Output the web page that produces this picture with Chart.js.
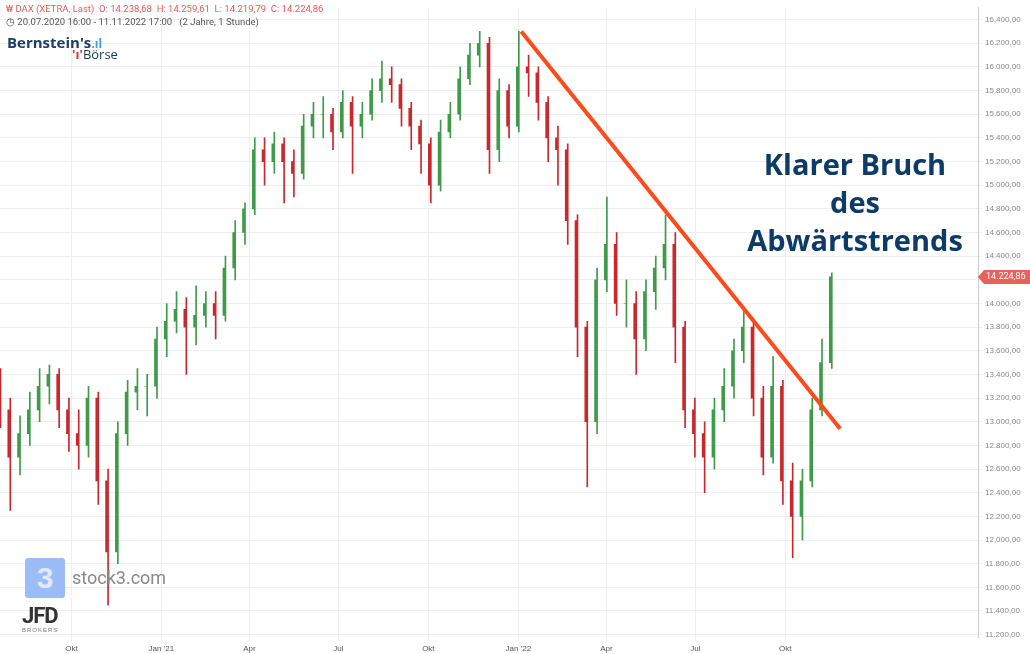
<!DOCTYPE html>
<html>
<head>
<meta charset="utf-8">
<script src="https://cdn.jsdelivr.net/npm/chart.js@4"></script>
<style>
  body { margin: 0; background: #fff; font-family: Roboto, "Noto Sans", sans-serif; }
  #wrap { position: relative; width: 1030px; height: 654px; }
  .hdr { position: absolute; left: 6px; font-size: 9.5px; }
  .big { position: absolute; left: 700px; width: 310px; text-align: center; color: #0d3a66;
         font: bold 29px "Open Sans", sans-serif; line-height: 38px; top: 145px; }
</style>
</head>
<body>
<div id="wrap">
  <canvas id="c" width="1030" height="654"></canvas>
  <div class="hdr" style="top:3px;color:#e85a5a">₩ DAX (XETRA, Last)&nbsp; O: 14.238,68&nbsp; H: 14.259,61&nbsp; L: 14.219,79&nbsp; C: 14.224,86</div>
  <div class="hdr" style="top:16px;color:#555">◷ 20.07.2020 16:00 - 11.11.2022 17:00&nbsp;&nbsp; (2 Jahre, 1 Stunde)</div>
  <div style="position:absolute;left:7px;top:32px;font:bold 15px 'Open Sans',sans-serif;color:#1b3d66">Bernstein's<span style="color:#3aa0e0;font-size:12px">.ıl</span></div>
  <div style="position:absolute;left:72px;top:45px;font:13px 'Open Sans',sans-serif;color:#1b3d66"><span style="color:#e03030;font-weight:bold">'ı'</span>Börse</div>
  <div class="big">Klarer Bruch<br>des<br>Abwärtstrends</div>
  <div style="position:absolute;left:25px;top:558px;width:40px;height:40px;background:#9bbcf5;border-radius:3px;color:#dfe9ff;font:bold 30px sans-serif;text-align:center;line-height:40px">3</div>
  <div style="position:absolute;left:72px;top:567px;font:18px Roboto,sans-serif;color:#8a8a8a">stock3.com</div>
  <div style="position:absolute;left:22px;top:603px;font:bold 22px Roboto,sans-serif;color:#333;letter-spacing:-1px">JFD</div>
  <div style="position:absolute;left:22px;top:627px;font:6px sans-serif;color:#777;letter-spacing:1px">BROKERS</div>
</div>
<script>
// candles every 10 calendar days from 20.07.2020 (day 0)
const closes = [13100,12700,12900,13100,13300,13400,13100,12900,12800,13200,12500,11900,12900,13250,13300,13300,13700,13850,13950,13800,
  13900,14000,13900,14300,14600,14800,15300,15200,15350,15200,15100,15500,15600,15600,15450,15700,15500,15600,15800,15900,
  15850,15650,15500,15350,15000,15450,15600,15900,16100,16200,15300,15800,15500,16000,15950,15700,15400,15300,14700,13800,
  13000,14200,14500,14000,14000,13700,14100,14300,14500,13800,13100,12900,12700,13100,13300,13600,13800,13200,12700,13300,
  12500,12200,12500,13100,13500,14224.86];
const highs = [13450,13200,13050,13250,13450,13480,13450,13200,13100,13300,13250,12600,13000,13350,13450,13400,13800,14000,14100,14050,
  14150,14100,14100,14400,14700,14850,15400,15400,15450,15400,15300,15600,15700,15750,15650,15800,15750,15700,15900,16050,
  16000,15900,15700,15550,15400,15550,15700,16000,16200,16300,16250,15900,15850,16300,16100,16000,15750,15500,15350,14750,
  13850,14300,14900,14600,14200,14100,14200,14400,14750,14600,13850,13200,13000,13200,13450,13700,13950,13850,13300,13550,
  13350,12650,12600,13200,13700,14259.61];
const lows = [12950,12250,12550,12800,13000,13150,12950,12750,12600,12700,12300,11450,11800,12800,13100,13050,13200,13550,13750,13400,
  13650,13800,13700,13850,14200,14500,14750,15000,15100,14850,14900,15050,15400,15400,15300,15400,15100,15400,15550,15700,
  15700,15500,15300,15100,14850,14950,15400,15550,15850,16000,15100,15200,15400,15450,15750,15550,15200,15000,14500,13550,
  12450,12900,14100,13900,13800,13400,13600,13950,14200,13500,12950,12700,12400,12600,13000,13200,13500,13050,12550,12650,
  12300,11850,12000,12450,13050,13450];
const firstOpen = 13300;
const trendDays = [533, 859];
const trendPrices = [16300, 12940];
const monthDays = [73, 165, 255, 346, 438, 530, 620, 711, 803];
const monthLabels = ['Okt', "Jan '21", 'Apr', 'Jul', 'Okt', "Jan '22", 'Apr', 'Jul', 'Okt'];
const lastPrice = 14224.86;

const fmt = v => v.toLocaleString('de-DE', { minimumFractionDigits: 2, maximumFractionDigits: 2 });

const bodies = [], wicks = [], colors = [];
closes.forEach((c, i) => {
  const o = i === 0 ? firstOpen : closes[i - 1];
  bodies.push({ x: i * 10, y: [o, c] });
  wicks.push({ x: i * 10, y: [lows[i], highs[i]] });
  colors.push(c >= o ? '#3f9a4a' : '#c8282e');
});

const lastLabel = {
  id: 'lastLabel',
  afterDraw(chart) {
    const { ctx, scales: { y } } = chart;
    const py = y.getPixelForValue(lastPrice);
    ctx.save();
    ctx.fillStyle = '#e8615a';
    ctx.beginPath();
    ctx.moveTo(978, py); ctx.lineTo(984, py - 7); ctx.lineTo(1030, py - 7); ctx.lineTo(1030, py + 7); ctx.lineTo(984, py + 7);
    ctx.fill();
    ctx.fillStyle = '#fff';
    ctx.font = '9px Roboto, sans-serif';
    ctx.textBaseline = 'middle';
    ctx.fillText(fmt(lastPrice), 986, py);
    ctx.restore();
  }
};

new Chart(document.getElementById('c'), {
  type: 'bar',
  data: {
    datasets: [
      { type: 'line', data: trendDays.map((d, i) => ({ x: d, y: trendPrices[i] })), borderColor: '#ff4a1c', borderWidth: 4, pointRadius: 0 },
      { data: bodies, backgroundColor: colors, barThickness: 2 },
      { data: wicks, backgroundColor: colors, barThickness: 1 }
    ]
  },
  options: {
    responsive: false, animation: false,
    layout: { padding: { top: 6 } },
    plugins: { legend: { display: false }, tooltip: { enabled: false } },
    scales: {
      x: {
        type: 'linear', min: 0, max: 1000, offset: false,
        afterBuildTicks: s => { s.ticks = monthDays.map(v => ({ value: v })); },
        afterFit: s => { s.height = 17; },
        ticks: { autoSkip: false, maxRotation: 0, font: { size: 8 }, color: '#555',
          callback: (v) => monthLabels[monthDays.indexOf(v)] },
        grid: { color: '#eeeeee', tickLength: 4, offset: false },
        border: { display: false }
      },
      y: {
        position: 'right', min: 11180, max: 16500,
        afterBuildTicks: s => { const t = []; for (let v = 11200; v <= 16400; v += 200) t.push({ value: v }); s.ticks = t; },
        afterFit: s => { s.width = 52; },
        ticks: { font: { size: 8 }, color: '#888', padding: 3, callback: v => fmt(v) },
        grid: { color: '#eeeeee', tickLength: 4 },
        border: { color: '#cccccc' }
      }
    }
  },
  plugins: [lastLabel]
});
</script>
</body>
</html>
